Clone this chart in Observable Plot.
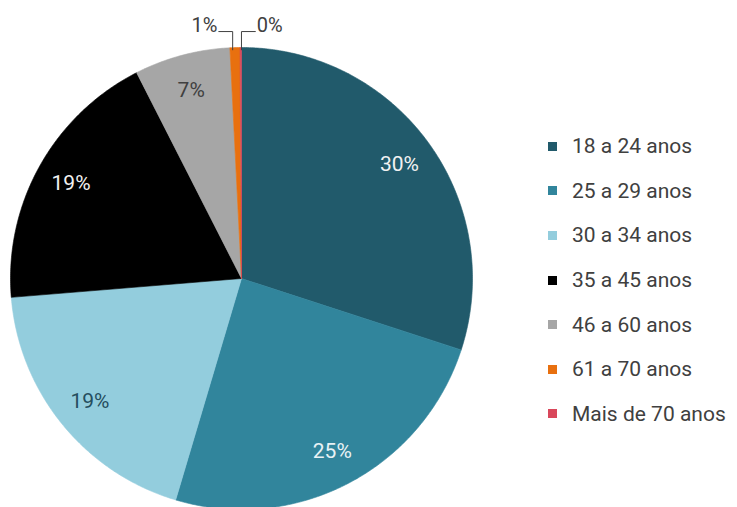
<!DOCTYPE html>
<html>
<head>
<meta charset="utf-8">
<script src="https://cdn.jsdelivr.net/npm/d3@7"></script>
<script src="https://cdn.jsdelivr.net/npm/@observablehq/plot@0.6"></script>
<style>
  html, body { margin: 0; padding: 0; background: #fff; }
  #wrap { position: relative; width: 737px; height: 507px; overflow: hidden; }
  #legend { position: absolute; left: 548px; top: 124px; }
  #legend .lg-swatch { height: 44.6px; padding: 0; margin: 0; display: flex; align-items: center; }
  #legend .lg-swatch > svg { margin-right: 15px; }
  #legend .lg-swatch-label { color: #404040; }
</style>
</head>
<body>
<div id="wrap"></div>
<script>
const categories = ["18 a 24 anos", "25 a 29 anos", "30 a 34 anos", "35 a 45 anos", "46 a 60 anos", "61 a 70 anos", "Mais de 70 anos"];
const values = [30.0, 24.6, 19.1, 18.8, 6.7, 0.7, 0.1];
const colors = ["#215a6b", "#31859c", "#93cddd", "#000000", "#a6a6a6", "#e8700f", "#d9475b"];
const labelColors = ["#f2f2f2", "#e8f2f5", "#254e5e", "#f2f2f2", "#404040", "#404040", "#404040"];

const FONT = "Roboto, 'Open Sans', sans-serif";
const total = d3.sum(values);
const pie = d3.pie().sort(null).value(d => d.value)(categories.map((name, i) => ({name, value: values[i], i})));

// slice polygons in unit-circle data space (angle clockwise from top)
const pts = [];
pie.forEach(s => {
  const n = Math.max(2, Math.ceil((s.endAngle - s.startAngle) / (Math.PI / 360)));
  pts.push({name: s.data.name, x: 0, y: 0});
  for (let k = 0; k <= n; k++) {
    const a = s.startAngle + (s.endAngle - s.startAngle) * k / n;
    pts.push({name: s.data.name, x: Math.sin(a), y: Math.cos(a)});
  }
  pts.push({name: s.data.name, x: 0, y: 0});
});

const pct = v => Math.round(v / total * 100) + "%";
const inner = pie.filter(s => s.data.value / total >= 0.02).map(s => {
  const m = (s.startAngle + s.endAngle) / 2;
  return {label: pct(s.data.value), x: 0.845 * Math.sin(m), y: 0.845 * Math.cos(m), color: labelColors[s.data.i]};
});
const small = pie.filter(s => s.data.value / total < 0.02);
const leaders = [];
const outer = [];
small.forEach((s, j) => {
  const m = (s.startAngle + s.endAngle) / 2;
  const side = j === 0 ? -1 : 1;
  const x0 = Math.sin(m) + (j === 0 ? -0.01 : 0.003);
  const id = s.data.name;
  leaders.push({id, x: x0, y: 0.99}, {id, x: x0, y: 1.069}, {id, x: x0 + side * 0.06, y: 1.069});
  outer.push({label: pct(s.data.value), x: x0 + side * 0.066, y: 1.093, anchor: side < 0 ? "end" : "start"});
});

const chart = Plot.plot({
  width: 737,
  height: 507,
  margin: 0,
  x: {domain: [-1, 1], range: [10, 472], axis: null},
  y: {domain: [-1, 1], range: [509, 47], axis: null},
  color: {domain: categories, range: colors},
  style: {fontFamily: FONT, background: "white", overflow: "visible"},
  marks: [
    Plot.line(pts, {x: "x", y: "y", z: "name", fill: "name", stroke: "name", strokeWidth: 0.6, curve: "linear"}),
    Plot.text(inner, {x: "x", y: "y", text: "label", fill: d => d.color, fontSize: 21}),
    Plot.line(leaders, {x: "x", y: "y", z: "id", stroke: "#404040", strokeWidth: 1}),
    Plot.text(outer.filter(d => d.anchor === "end"), {x: "x", y: "y", text: "label", textAnchor: "end", fill: "#404040", fontSize: 20}),
    Plot.text(outer.filter(d => d.anchor === "start"), {x: "x", y: "y", text: "label", textAnchor: "start", fill: "#404040", fontSize: 20})
  ]
});

const wrap = document.getElementById("wrap");
chart.style.position = "absolute";
chart.style.left = "0px";
chart.style.top = "0px";
wrap.appendChild(chart);

const legend = Plot.legend({
  color: {domain: categories, range: colors, type: "ordinal"},
  legend: "swatches",
  columns: 1,
  swatchSize: 9,
  className: "lg",
  style: {fontFamily: FONT, fontSize: "21px", color: "#404040", margin: 0}
});
const lw = document.createElement("div");
lw.id = "legend";
lw.appendChild(legend);
wrap.appendChild(lw);
</script>
</body>
</html>
